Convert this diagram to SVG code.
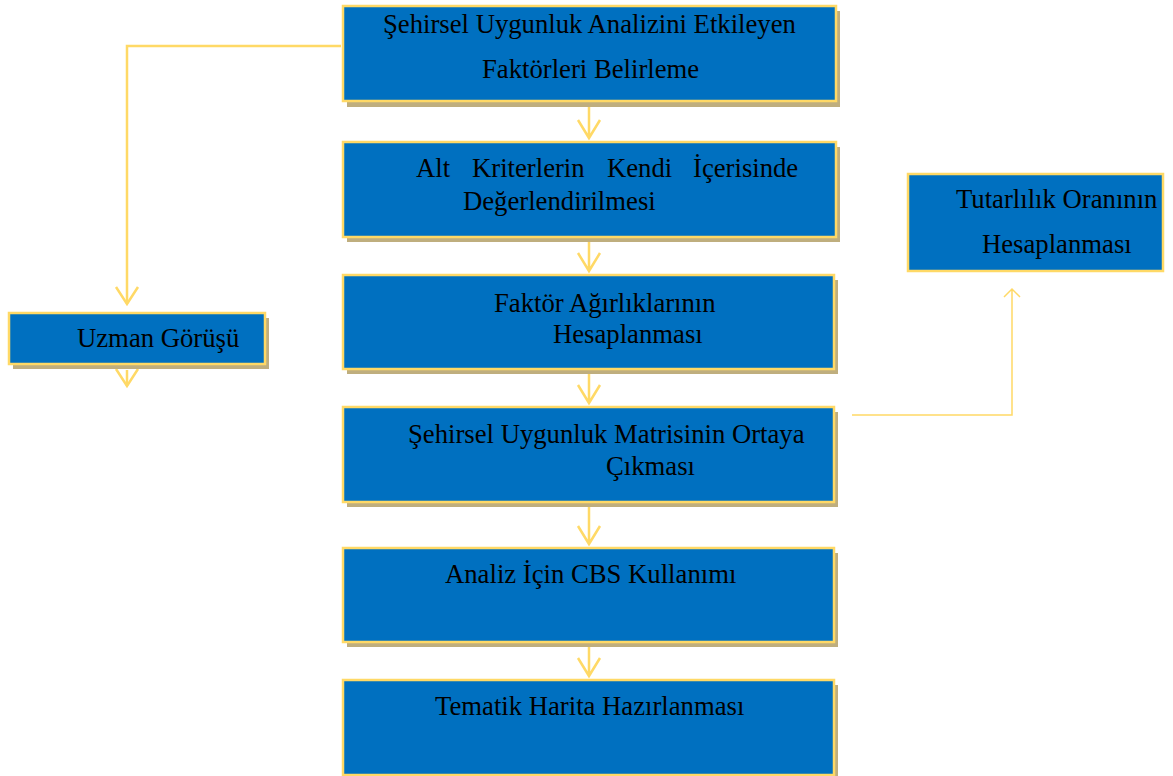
<svg xmlns="http://www.w3.org/2000/svg" width="1173" height="776" viewBox="0 0 1173 776">
<style>
.box{fill:#0070C0;stroke:#FFD966;stroke-width:2.5}
.sh{fill:#BFAE7E}
.t{font-family:"Liberation Serif","Times New Roman",serif;font-size:26.7px;fill:#000}
.c{fill:none;stroke:#FFD966;stroke-width:2.5;stroke-linejoin:miter}
.ct{fill:none;stroke:#FFD966;stroke-width:1.5}
</style>
<rect width="1173" height="776" fill="#fff"/>
<g id="connectors">
<path class="c" d="M341 46 H127 V304"/>
<path class="c" d="M116 287 L127 304 L138 287"/>
<path class="c" d="M127 370 V386"/>
<path class="c" d="M116 369 L127 386 L138 369"/>
<path class="c" d="M589 106 V138 M578 120 L589 138 L600 120"/>
<path class="c" d="M589 241 V271 M578 253 L589 271 L600 253"/>
<path class="c" d="M589 373 V403 M578 385 L589 403 L600 385"/>
<path class="c" d="M589 506 V544 M578 526 L589 544 L600 526"/>
<path class="c" d="M589 646 V676 M578 658 L589 676 L600 658"/>
<path class="ct" d="M852 415 H1012 V289 M1004 297 L1012 289 L1020 297"/>
</g>
<g id="n1">
<rect class="sh" x="347" y="11" width="493" height="96"/>
<rect class="box" x="343" y="6" width="493" height="95"/>
<text class="t" x="383" y="33">Şehirsel Uygunluk Analizini Etkileyen</text>
<text class="t" x="482" y="78">Faktörleri Belirleme</text>
</g>
<g id="n2">
<rect class="sh" x="347" y="147" width="493" height="95"/>
<rect class="box" x="343" y="142" width="493" height="95"/>
<text class="t" y="177"><tspan x="416">Alt</tspan><tspan x="472">Kriterlerin</tspan><tspan x="607">Kendi</tspan><tspan x="693">İçerisinde</tspan></text>
<text class="t" x="463" y="210">Değerlendirilmesi</text>
</g>
<g id="n3">
<rect class="sh" x="347" y="280" width="491" height="94"/>
<rect class="box" x="343" y="275" width="491" height="94"/>
<text class="t" x="494" y="312">Faktör Ağırlıklarının</text>
<text class="t" x="553" y="343">Hesaplanması</text>
</g>
<g id="n4">
<rect class="sh" x="347" y="412" width="491" height="95"/>
<rect class="box" x="343" y="407" width="491" height="95"/>
<text class="t" x="408" y="443">Şehirsel Uygunluk Matrisinin Ortaya</text>
<text class="t" x="606" y="475">Çıkması</text>
</g>
<g id="n5">
<rect class="sh" x="347" y="553" width="491" height="94"/>
<rect class="box" x="343" y="548" width="491" height="94"/>
<text class="t" x="445" y="583">Analiz İçin CBS Kullanımı</text>
</g>
<g id="n6">
<rect class="sh" x="347" y="685" width="491" height="95"/>
<rect class="box" x="343" y="680" width="491" height="95"/>
<text class="t" x="435" y="715">Tematik Harita Hazırlanması</text>
</g>
<g id="n7">
<rect class="sh" x="13" y="318" width="256" height="51"/>
<rect class="box" x="9" y="313" width="256" height="51"/>
<text class="t" x="77" y="347">Uzman Görüşü</text>
</g>
<g id="n8">
<rect class="box" x="908" y="174" width="255" height="97"/>
<text class="t" x="956" y="208">Tutarlılık Oranının</text>
<text class="t" x="982" y="253">Hesaplanması</text>
</g>
</svg>
